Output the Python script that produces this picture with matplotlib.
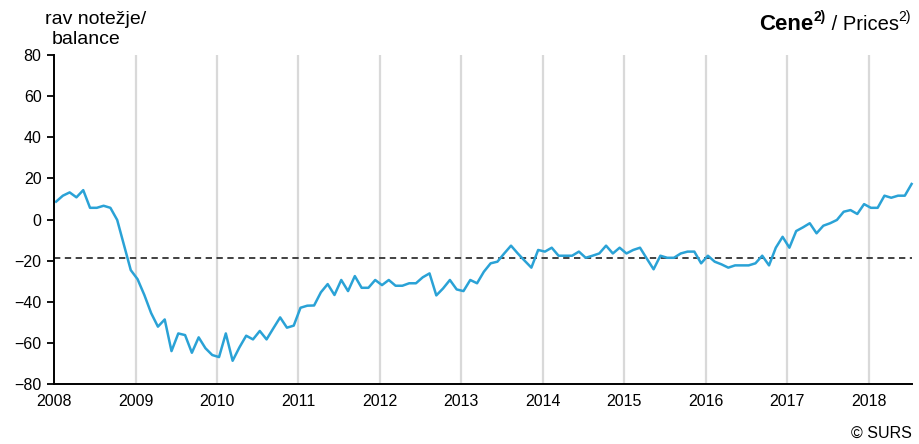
import numpy as np
import matplotlib
matplotlib.use("Agg")
import matplotlib.pyplot as plt

###
# Data: monthly balance of answers, Jan 2008 - Jul 2018
###

balance = [
    # 2008
    8.7, 11.6, 13.2, 10.8, 14.3, 5.7, 5.7, 6.7, 5.7, -0.2, -12.4, -24.6,
    # 2009
    -29.0, -36.7, -45.5, -52.1, -48.6, -64.0, -55.4, -56.2, -64.8, -57.3, -62.6, -65.9,
    # 2010
    -66.9, -55.4, -68.7, -62.2, -56.5, -58.3, -54.2, -58.3, -52.9, -47.6, -52.6, -51.6,
    # 2011
    -42.9, -41.9, -41.8, -35.4, -31.4, -36.7, -29.4, -34.8, -27.5, -33.2, -33.2, -29.4,
    # 2012
    -31.9, -29.4, -32.2, -32.2, -31.0, -31.0, -28.1, -26.2, -36.9, -33.5, -29.4, -34.0,
    # 2013
    -34.8, -29.4, -31.0, -25.4, -21.3, -20.5, -16.5, -12.7, -16.5, -20.0, -23.4, -14.8,
    # 2014
    -15.6, -13.7, -17.6, -17.6, -17.6, -15.6, -18.6, -17.6, -16.5, -12.7, -16.5, -13.7,
    # 2015
    -16.5, -14.8, -13.7, -19.0, -24.2, -17.6, -18.6, -18.6, -16.5, -15.6, -15.6, -21.3,
    # 2016
    -17.6, -20.5, -21.8, -23.4, -22.3, -22.3, -22.3, -21.3, -17.6, -22.3, -13.7, -8.4,
    # 2017
    -13.7, -5.6, -3.8, -1.8, -6.7, -3.0, -1.8, -0.2, 3.8, 4.6, 2.7, 7.5,
    # 2018
    5.7, 5.7, 11.6, 10.6, 11.6, 11.6, 17.3,
]
long_term_avg = -18.6

years = list(range(2008, 2019))
y_ticks = list(range(-80, 81, 20))

# decimal-year position of each monthly observation
t = 2008 + (np.arange(len(balance)) + 0.3) / 12

###
# Plotting
###

plt.rcParams["font.family"] = ["Liberation Sans", "DejaVu Sans"]

fig = plt.figure(figsize=(9.19, 4.44), dpi=100)
ax = fig.add_axes([0.0588, 0.1351, 0.9336, 0.7409])

for yr in years[1:]:
    ax.axvline(yr, color="#D9D9D9", lw=1.6, zorder=0)

ax.axhline(long_term_avg, color="#333333", lw=1.3, ls=(0, (3.5, 2.5)), zorder=1)
ax.plot(t, balance, color="#2AA2D6", lw=1.8, zorder=2, clip_on=False)

ax.set_xlim(2008, 2018.53)
ax.set_ylim(-80, 80)
ax.set_yticks(y_ticks)
ax.set_xticks(years)
ax.set_xticklabels([str(y) for y in years])

ax.tick_params(axis="y", direction="out", length=5, width=1.3, pad=4, labelsize=11.5)
ax.tick_params(axis="x", length=0, pad=7, labelsize=11.5)

for side in ("top", "right"):
    ax.spines[side].set_visible(False)
for side in ("left", "bottom"):
    ax.spines[side].set_linewidth(1.4)
    ax.spines[side].set_color("black")

fig.text(45 / 919, 1 - 20 / 444, "rav notežje/", fontsize=14, ha="left", va="center")
fig.text(86 / 919, 1 - 40 / 444, "balance", fontsize=14, ha="center", va="center")

# title built right-to-left so the superscripts sit next to their words
renderer = fig.canvas.get_renderer()
fig_w = fig.bbox.width
x = 911 / 919
base = 1 - 30 / 444
pieces = [
    ("2)", 10, "normal", 0.02),
    (" / Prices", 14.5, "normal", 0.0),
    ("2)", 10, "bold", 0.02),
    ("Cene", 16, "bold", 0.0),
]
for txt, size, weight, dy in pieces:
    tx = fig.text(x, base + dy, txt, fontsize=size, fontweight=weight,
                  ha="right", va="baseline")
    x -= tx.get_window_extent(renderer).width / fig_w

fig.text(912 / 919, 1 - 433 / 444, "© SURS", fontsize=11.5, ha="right", va="center")

fig.savefig("out.png", dpi=100)
